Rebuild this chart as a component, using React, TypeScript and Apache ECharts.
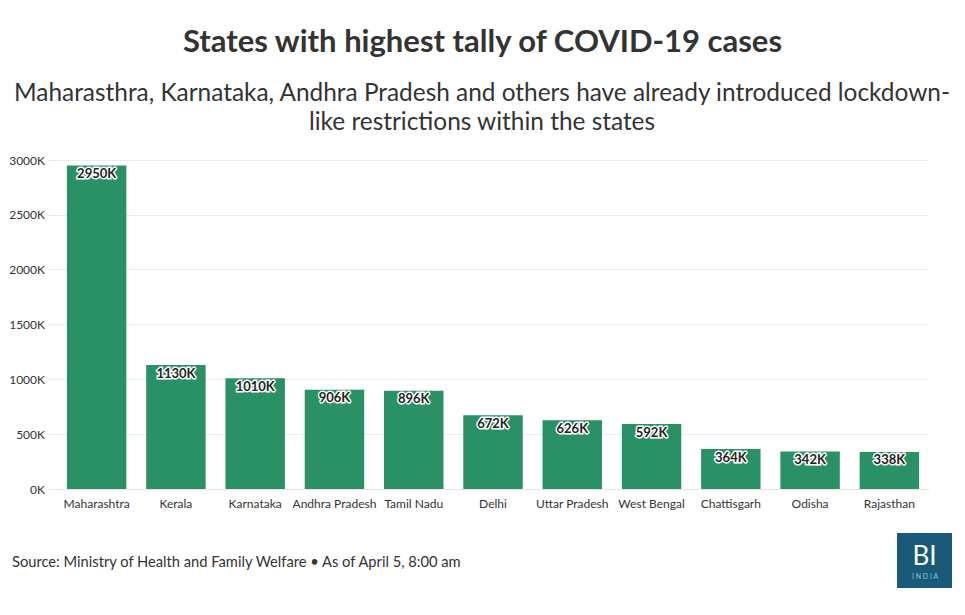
import React, { useEffect, useRef } from "react";
import * as echarts from "echarts";

const categories = ["Maharashtra", "Kerala", "Karnataka", "Andhra Pradesh", "Tamil Nadu", "Delhi", "Uttar Pradesh", "West Bengal", "Chattisgarh", "Odisha", "Rajasthan"];
const cases = [2950, 1130, 1010, 906, 896, 672, 626, 592, 364, 342, 338];
const titleText = "States with highest tally of COVID-19 cases";
const subtitleText = "Maharasthra, Karnataka, Andhra Pradesh and others have already introduced lockdown-\nlike restrictions within the states";
const sourceText = "Source: Ministry of Health and Family Welfare • As of April 5, 8:00 am";

const FONT = "Lato, 'Noto Sans', sans-serif";

export default function App() {
  const ref = useRef<HTMLDivElement>(null);
  useEffect(() => {
    if (!ref.current) return;
    const chart = echarts.init(ref.current, null, { renderer: "svg" });
    chart.setOption({
      animation: false,
      backgroundColor: "#ffffff",
      textStyle: { fontFamily: FONT },
      title: {
        text: titleText,
        left: "center",
        top: 19,
        textStyle: { fontSize: 31, fontWeight: "bold", color: "#333333", fontFamily: FONT },
      },
      grid: { left: 57, right: 36, top: 160, bottom: 126, containLabel: false },
      xAxis: {
        type: "category",
        data: categories,
        axisLine: { lineStyle: { color: "#e6e6e6" } },
        axisTick: { alignWithLabel: true, lineStyle: { color: "#e6e6e6" }, length: 6 },
        axisLabel: { color: "#333333", fontSize: 12, margin: 8, interval: 0, fontFamily: FONT },
      },
      yAxis: {
        type: "value",
        min: 0,
        max: 3000,
        interval: 500,
        axisLine: { show: false },
        axisTick: { show: true, length: 8, lineStyle: { color: "#e6e6e6" } },
        splitLine: { lineStyle: { color: "#ececec" } },
        axisLabel: { color: "#333333", fontSize: 12, margin: 12, formatter: (v: number) => v + "K", fontFamily: FONT },
      },
      series: [
        {
          type: "bar",
          data: cases,
          barCategoryGap: "25%",
          itemStyle: { color: "#2a9166" },
          label: {
            show: true,
            position: "insideTop",
            distance: 1,
            formatter: (p: any) => p.value + "K",
            fontSize: 13,
            fontWeight: "bold",
            color: "#222222",
            textBorderColor: "#ffffff",
            textBorderWidth: 3,
            fontFamily: FONT,
          },
        },
      ],
      graphic: [
        {
          type: "text",
          x: 482,
          y: 77,
          style: { text: subtitleText, fontSize: 24.4, fill: "#333333", fontFamily: FONT, textAlign: "center", lineHeight: 29 },
        },
        {
          type: "text",
          left: 12,
          top: 553,
          style: { text: sourceText, fontSize: 14.7, fill: "#333333", fontFamily: FONT },
        },
        {
          type: "group",
          left: 897,
          top: 533,
          children: [
            { type: "rect", shape: { x: 0, y: 0, width: 55, height: 55 }, style: { fill: "#185a78" } },
            { type: "text", x: 27.5, y: 9, style: { text: "BI", fontSize: 26, lineHeight: 26, fill: "#ffffff", textAlign: "center", fontFamily: FONT } },
            { type: "text", x: 28, y: 39, style: { text: "I N D I A", fontSize: 7, lineHeight: 8, fill: "#7fc6e6", textAlign: "center", fontFamily: FONT } },
          ],
        },
      ],
    });
    return () => chart.dispose();
  }, []);
  return <div ref={ref} style={{ position: "absolute", left: 0, top: 0, width: 965, height: 615 }} />;
}
